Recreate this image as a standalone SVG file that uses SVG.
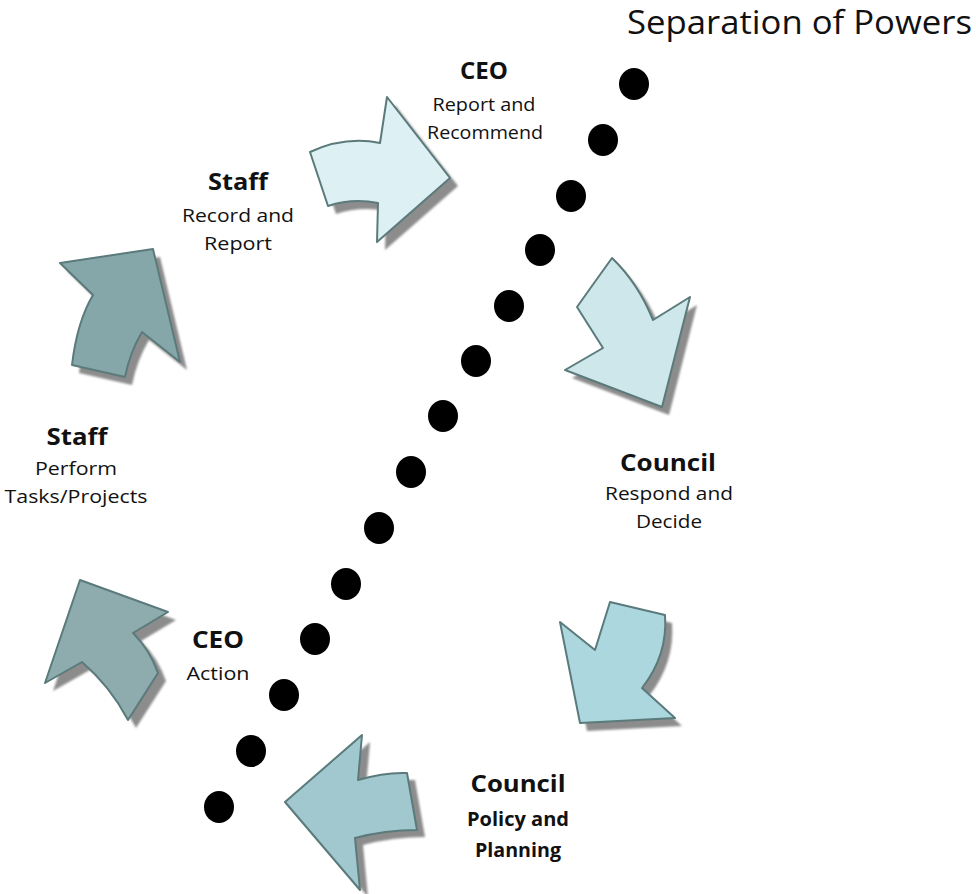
<svg xmlns="http://www.w3.org/2000/svg" width="976" height="894" viewBox="0 0 976 894">
<style>
text{font-family:"Open Sans","Noto Sans","Liberation Sans",sans-serif;fill:#111;text-anchor:middle}
.t{font-weight:bold;font-size:24px}
.s{font-size:19px}
.sb{font-size:19px;font-weight:bold}
.shadow{fill:#8c8c8c}
.arr{stroke:#5b7a7b;stroke-width:2;stroke-linejoin:round}
.dot{fill:#000}
</style>
<defs>
<filter id="blur" x="-10%" y="-10%" width="130%" height="130%"><feGaussianBlur stdDeviation="1.2"/></filter>
</defs>
<rect width="976" height="894" fill="#fff"/>
<text x="627" y="34" style="font-size:33px;text-anchor:start" textLength="345" lengthAdjust="spacingAndGlyphs">Separation of Powers</text>

<g id="separator">
<ellipse class="dot" cx="634" cy="84" rx="15" ry="16"/>
<ellipse class="dot" cx="603" cy="140" rx="15" ry="16"/>
<ellipse class="dot" cx="571" cy="196" rx="15" ry="16"/>
<ellipse class="dot" cx="540" cy="250" rx="15" ry="16"/>
<ellipse class="dot" cx="509" cy="306" rx="15" ry="16"/>
<ellipse class="dot" cx="476" cy="361" rx="15" ry="16"/>
<ellipse class="dot" cx="443" cy="416" rx="15" ry="16"/>
<ellipse class="dot" cx="411" cy="472" rx="15" ry="16"/>
<ellipse class="dot" cx="379" cy="528" rx="15" ry="16"/>
<ellipse class="dot" cx="346" cy="584" rx="15" ry="16"/>
<ellipse class="dot" cx="315" cy="639" rx="15" ry="16"/>
<ellipse class="dot" cx="284" cy="695" rx="15" ry="16"/>
<ellipse class="dot" cx="251" cy="751" rx="15" ry="16"/>
<ellipse class="dot" cx="219" cy="807" rx="15" ry="16"/>
</g>

<g id="connectors">
<g id="arrow-ceo-report">
<path class="shadow" filter="url(#blur)" transform="translate(8,8)" d="M310,152 Q345,136 380,143 L387,97 L450,178 L377,242 L378,203 Q352,198 328,206 Z"/>
<path class="arr" fill="#ddf0f3" d="M310,152 Q345,136 380,143 L387,97 L450,178 L377,242 L378,203 Q352,198 328,206 Z"/>
</g>
<g id="arrow-staff-up">
<path class="shadow" filter="url(#blur)" transform="translate(7,8)" d="M60,263 L153,249 L180,362 L142,332 Q130,352 125,377 L72,365 Q77,322 93,295 Z"/>
<path class="arr" fill="#86a7a9" d="M60,263 L153,249 L180,362 L142,332 Q130,352 125,377 L72,365 Q77,322 93,295 Z"/>
</g>
<g id="arrow-council-respond">
<path class="shadow" filter="url(#blur)" transform="translate(7,8)" d="M612,258 Q594,283 577,307 L603,348 L565,370 L662,407 L690,297 L653,320 Q638,283 612,258 Z"/>
<path class="arr" fill="#cde7ea" d="M612,258 Q594,283 577,307 L603,348 L565,370 L662,407 L690,297 L653,320 Q638,283 612,258 Z"/>
</g>
<g id="arrow-council-down">
<path class="shadow" filter="url(#blur)" transform="translate(7,8)" d="M560,622 L595,650 L610,602 L665,615 Q668,655 642,688 L675,718 L580,723 Z"/>
<path class="arr" fill="#acd7df" d="M560,622 L595,650 L610,602 L665,615 Q668,655 642,688 L675,718 L580,723 Z"/>
</g>
<g id="arrow-council-policy">
<path class="shadow" filter="url(#blur)" transform="translate(8,7)" d="M362,735 L358,780 Q385,772 407,773 L417,830 Q385,830 355,838 L360,890 L285,802 Z"/>
<path class="arr" fill="#a0c8ce" d="M362,735 L358,780 Q385,772 407,773 L417,830 Q385,830 355,838 L360,890 L285,802 Z"/>
</g>
<g id="arrow-ceo-action">
<path class="shadow" filter="url(#blur)" transform="translate(8,8)" d="M80,580 L168,612 L133,633 Q150,650 158,673 L128,720 Q110,686 82,662 L45,683 Z"/>
<path class="arr" fill="#8eacae" d="M80,580 L168,612 L133,633 Q150,650 158,673 L128,720 Q110,686 82,662 L45,683 Z"/>
</g>
</g>

<g id="node-ceo-report">
<text class="t" x="484" y="79" textLength="48" lengthAdjust="spacingAndGlyphs">CEO</text>
<text class="s" x="484" y="111" textLength="103" lengthAdjust="spacingAndGlyphs">Report and</text>
<text class="s" x="485" y="139" textLength="116" lengthAdjust="spacingAndGlyphs">Recommend</text>
</g>
<g id="node-staff-record">
<text class="t" x="238" y="190" textLength="60" lengthAdjust="spacingAndGlyphs">Staff</text>
<text class="s" x="238" y="222" textLength="112" lengthAdjust="spacingAndGlyphs">Record and</text>
<text class="s" x="238" y="250" textLength="68" lengthAdjust="spacingAndGlyphs">Report</text>
</g>
<g id="node-staff-perform">
<text class="t" x="77" y="445" textLength="61" lengthAdjust="spacingAndGlyphs">Staff</text>
<text class="s" x="76" y="475" textLength="82" lengthAdjust="spacingAndGlyphs">Perform</text>
<text class="s" x="76" y="503" textLength="143" lengthAdjust="spacingAndGlyphs">Tasks/Projects</text>
</g>
<g id="node-council-respond">
<text class="t" x="668" y="471" textLength="96" lengthAdjust="spacingAndGlyphs">Council</text>
<text class="s" x="669" y="500" textLength="128" lengthAdjust="spacingAndGlyphs">Respond and</text>
<text class="s" x="669" y="528" textLength="66" lengthAdjust="spacingAndGlyphs">Decide</text>
</g>
<g id="node-ceo-action">
<text class="t" x="218" y="648" textLength="52" lengthAdjust="spacingAndGlyphs">CEO</text>
<text class="s" x="218" y="680" textLength="63" lengthAdjust="spacingAndGlyphs">Action</text>
</g>
<g id="node-council-policy">
<text class="t" x="518" y="792" textLength="95" lengthAdjust="spacingAndGlyphs">Council</text>
<text class="sb" x="518" y="826" textLength="102" lengthAdjust="spacingAndGlyphs">Policy and</text>
<text class="sb" x="518" y="857" textLength="86" lengthAdjust="spacingAndGlyphs">Planning</text>
</g>
</svg>
